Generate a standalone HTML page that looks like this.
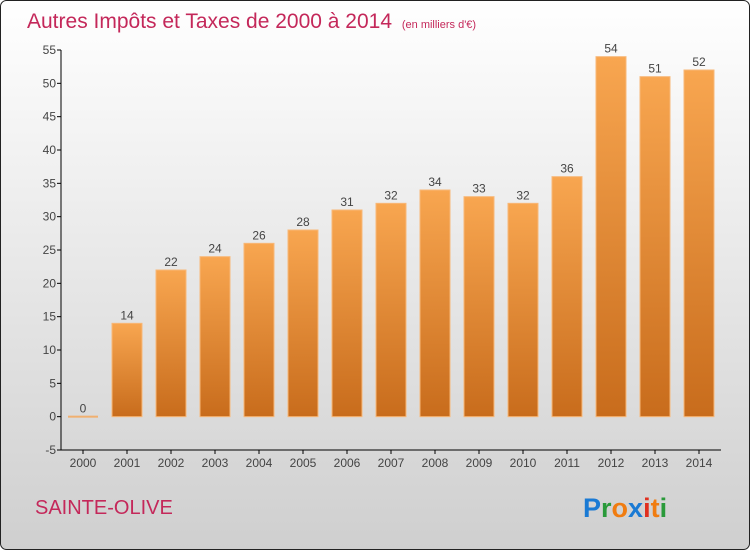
<!DOCTYPE html>
<html><head><meta charset="utf-8"><style>
body{margin:0;width:750px;height:550px;overflow:hidden;font-family:"Liberation Sans",sans-serif}
</style></head><body>
<svg width="750" height="550" xmlns="http://www.w3.org/2000/svg">
<defs>
<linearGradient id="bg" x1="0" y1="0" x2="0" y2="1"><stop offset="0" stop-color="#ffffff"/><stop offset="1" stop-color="#cfcfcf"/></linearGradient>
<linearGradient id="bar" x1="0" y1="0" x2="0" y2="1"><stop offset="0" stop-color="#f8a650"/><stop offset="1" stop-color="#c86c1c"/></linearGradient>
</defs>
<rect x="0.5" y="0.5" width="749" height="549" rx="6" fill="url(#bg)" stroke="#222"/>
<text x="27" y="28" font-size="21" fill="#c4285a">Autres Impôts et Taxes de 2000 à 2014 <tspan font-size="11" dx="4">(en milliers d'€)</tspan></text>
<g id="yaxis"></g>
<g id="bars"></g>
<g id="xaxis"></g>
<text x="35" y="514" font-size="20" fill="#c4285a">SAINTE-OLIVE</text>
<text x="583" y="517" font-size="27" font-weight="bold"><tspan fill="#1a7ad4">P</tspan><tspan fill="#2a9a3a">r</tspan><tspan fill="#f07c10">o</tspan><tspan fill="#1a7ad4">x</tspan><tspan fill="#e03020">i</tspan><tspan fill="#f07c10">t</tspan><tspan fill="#2a9a3a">i</tspan></text>
</svg>
<script>
const categories=["2000","2001","2002","2003","2004","2005","2006","2007","2008","2009","2010","2011","2012","2013","2014"];
const values=[0,14,22,24,26,28,31,32,34,33,32,36,54,51,52];
const yTicks=[-5,0,5,10,15,20,25,30,35,40,45,50,55];
const NS="http://www.w3.org/2000/svg";
const x0=61,band=44,yTop=50,yBot=450,vMin=-5,vMax=55;
function y(v){return yBot-(v-vMin)/(vMax-vMin)*(yBot-yTop);}
function xc(i){return x0+band*i+band/2;}
function mk(t,a,p,txt){const e=document.createElementNS(NS,t);for(const k in a)e.setAttribute(k,a[k]);if(txt!==undefined)e.textContent=txt;p.appendChild(e);return e;}
const ya=document.getElementById('yaxis'),xa=document.getElementById('xaxis'),bs=document.getElementById('bars');
mk('line',{x1:x0,y1:yTop,x2:x0,y2:yBot,stroke:'#000'},ya);
yTicks.forEach(v=>{
 mk('line',{x1:x0-4,y1:y(v),x2:x0,y2:y(v),stroke:'#000'},ya);
 const t=mk('text',{x:x0-5,y:y(v)+4,'text-anchor':'end','font-size':12,fill:'#444'},ya,String(v));
 
 
});
mk('line',{x1:x0,y1:yBot,x2:x0+band*categories.length,y2:yBot,stroke:'#000'},xa);
categories.forEach((c,i)=>{
 mk('line',{x1:xc(i),y1:yBot,x2:xc(i),y2:yBot+4,stroke:'#000'},xa);
 const t=mk('text',{x:xc(i),y:yBot+17,'text-anchor':'middle','font-size':12,fill:'#444'},xa,c);
 
 
 const v=values[i];
 let r;
 if(v===0){r=mk('rect',{x:xc(i)-15,y:y(0)-1,width:30,height:2,fill:'#f0b070'},bs);}
 else{r=mk('rect',{x:xc(i)-15,y:y(v),width:30,height:y(0)-y(v),fill:'url(#bar)',stroke:'#f8b878','stroke-width':1},bs);}
 
 
 const l=mk('text',{x:xc(i),y:y(v)-4,'text-anchor':'middle','font-size':12,fill:'#444'},bs,String(v));
 
 
});
</script>
</body></html>
